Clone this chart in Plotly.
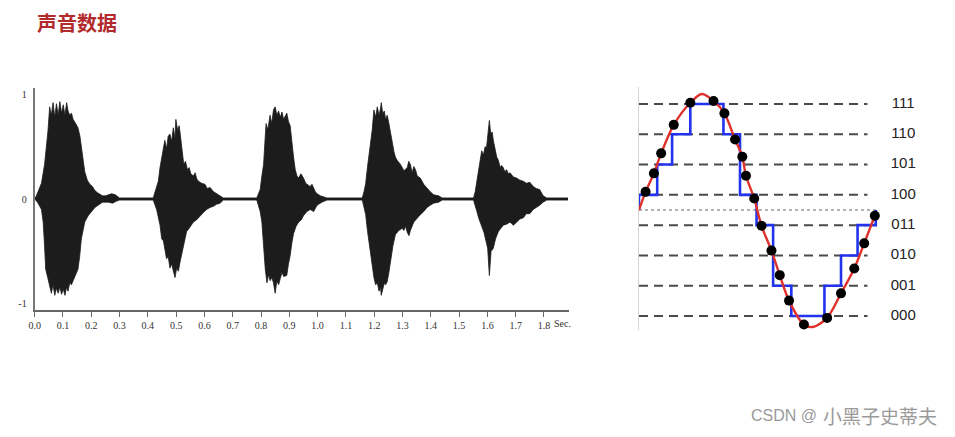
import plotly.graph_objects as go

# page body has an 8px margin: the figure is sized to fit inside it
OFF = 8
W, H = 955 - 2 * OFF, 437 - 2 * OFF


def px(x):
    return (x - OFF) / W


def py(y):
    return 1 - (y - OFF) / H


# ---------------- Left chart: audio waveform envelope ----------------
upper_t = [0.000, 0.006, 0.024, 0.035, 0.047, 0.053, 0.059, 0.065, 0.071, 0.077, 0.083, 0.089, 0.095,
           0.101, 0.107, 0.113, 0.118, 0.124, 0.130, 0.136, 0.145, 0.153, 0.160, 0.165, 0.171, 0.177,
           0.186, 0.195, 0.204, 0.213, 0.222, 0.230, 0.240, 0.250, 0.260, 0.272, 0.285, 0.295, 0.300,
           0.419, 0.425, 0.431, 0.437, 0.443, 0.449, 0.455, 0.460, 0.466, 0.472, 0.478, 0.484, 0.490,
           0.496, 0.499, 0.505, 0.511, 0.516, 0.522, 0.527, 0.533, 0.540, 0.546, 0.552, 0.561, 0.567,
           0.573, 0.579, 0.590, 0.602, 0.610, 0.620, 0.632, 0.643, 0.655, 0.667,
           0.785, 0.791, 0.797, 0.803, 0.809, 0.815, 0.818, 0.824, 0.832, 0.838, 0.844, 0.850, 0.856,
           0.862, 0.868, 0.874, 0.880, 0.891, 0.897, 0.903, 0.909, 0.915, 0.921, 0.927, 0.933, 0.941,
           0.950, 0.958, 0.968, 0.974, 0.980, 0.986, 0.992, 0.998, 1.010, 1.033,
           1.158, 1.164, 1.170, 1.176, 1.182, 1.188, 1.193, 1.199, 1.205, 1.211, 1.217, 1.222, 1.225,
           1.230, 1.236, 1.240, 1.246, 1.252, 1.258, 1.264, 1.270, 1.275, 1.281, 1.293, 1.305, 1.317,
           1.322, 1.328, 1.334, 1.340, 1.346, 1.352, 1.363, 1.375, 1.387, 1.398, 1.410, 1.428, 1.440,
           1.551, 1.557, 1.563, 1.568, 1.574, 1.580, 1.586, 1.592, 1.597, 1.602, 1.607, 1.612, 1.617,
           1.621, 1.627, 1.633, 1.639, 1.645, 1.650, 1.656, 1.662, 1.668, 1.674, 1.680, 1.692, 1.703,
           1.715, 1.727, 1.738, 1.750, 1.762, 1.773, 1.785, 1.797, 1.810, 1.885]
upper_v = [0.00, 0.03, 0.15, 0.33, 0.65, 0.88, 0.80, 0.92, 0.78, 0.91, 0.80, 0.93, 0.82,
           0.90, 0.80, 0.92, 0.84, 0.80, 0.82, 0.76, 0.72, 0.68, 0.60, 0.50, 0.38, 0.26,
           0.18, 0.14, 0.12, 0.08, 0.06, 0.05, 0.03, 0.03, 0.04, 0.05, 0.04, 0.02, 0.01,
           0.01, 0.07, 0.12, 0.17, 0.30, 0.40, 0.50, 0.56, 0.48, 0.60, 0.62, 0.55, 0.68,
           0.58, 0.76, 0.66, 0.70, 0.59, 0.45, 0.33, 0.36, 0.28, 0.30, 0.24, 0.22, 0.25,
           0.19, 0.17, 0.15, 0.14, 0.10, 0.11, 0.07, 0.05, 0.03, 0.01,
           0.01, 0.05, 0.09, 0.22, 0.33, 0.60, 0.72, 0.66, 0.80, 0.72, 0.85, 0.88, 0.80,
           0.84, 0.78, 0.83, 0.76, 0.82, 0.74, 0.70, 0.52, 0.40, 0.28, 0.22, 0.20, 0.24,
           0.20, 0.15, 0.13, 0.12, 0.14, 0.10, 0.07, 0.05, 0.03, 0.01,
           0.01, 0.07, 0.15, 0.30, 0.42, 0.56, 0.66, 0.85, 0.78, 0.88, 0.80, 0.86, 0.92,
           0.82, 0.84, 0.76, 0.80, 0.72, 0.62, 0.53, 0.45, 0.40, 0.37, 0.33, 0.27, 0.30,
           0.36, 0.33, 0.25, 0.31, 0.28, 0.22, 0.20, 0.14, 0.10, 0.07, 0.04, 0.03, 0.01,
           0.01, 0.07, 0.18, 0.27, 0.38, 0.46, 0.42, 0.50, 0.49, 0.60, 0.75, 0.62, 0.64,
           0.56, 0.48, 0.40, 0.37, 0.30, 0.32, 0.30, 0.26, 0.28, 0.24, 0.25, 0.21, 0.20,
           0.18, 0.17, 0.15, 0.16, 0.12, 0.10, 0.09, 0.03, 0.01, 0.01]

lower_t = [0.000, 0.010, 0.024, 0.030, 0.035, 0.039, 0.047, 0.053, 0.059, 0.065, 0.071, 0.077, 0.083,
           0.089, 0.095, 0.101, 0.107, 0.113, 0.118, 0.124, 0.130, 0.136, 0.145, 0.153, 0.159, 0.165,
           0.171, 0.177, 0.189, 0.201, 0.213, 0.224, 0.240, 0.260, 0.275, 0.290, 0.300,
           0.419, 0.431, 0.443, 0.449, 0.455, 0.460, 0.466, 0.472, 0.478, 0.484, 0.490, 0.496, 0.502,
           0.508, 0.514, 0.519, 0.525, 0.531, 0.537, 0.546, 0.555, 0.561, 0.572, 0.584, 0.596, 0.608,
           0.620, 0.632, 0.643, 0.655, 0.667,
           0.785, 0.797, 0.803, 0.809, 0.815, 0.821, 0.827, 0.832, 0.838, 0.844, 0.850, 0.856, 0.862,
           0.868, 0.874, 0.880, 0.891, 0.897, 0.903, 0.909, 0.915, 0.924, 0.933, 0.942, 0.950, 0.962,
           0.974, 0.986, 0.998, 1.015, 1.033,
           1.158, 1.164, 1.170, 1.176, 1.182, 1.188, 1.193, 1.199, 1.205, 1.211, 1.217, 1.222, 1.225,
           1.231, 1.236, 1.240, 1.246, 1.252, 1.260, 1.266, 1.275, 1.287, 1.299, 1.305, 1.311, 1.317,
           1.323, 1.328, 1.340, 1.352, 1.363, 1.375, 1.387, 1.398, 1.410, 1.428, 1.440,
           1.551, 1.557, 1.563, 1.569, 1.575, 1.580, 1.588, 1.595, 1.601, 1.607, 1.613, 1.621, 1.629,
           1.639, 1.648, 1.656, 1.668, 1.680, 1.692, 1.703, 1.715, 1.727, 1.738, 1.750, 1.762, 1.773,
           1.785, 1.797, 1.810, 1.885]
lower_v = [0.00, -0.03, -0.10, -0.22, -0.45, -0.67, -0.76, -0.82, -0.90, -0.82, -0.92, -0.85, -0.90,
           -0.84, -0.91, -0.86, -0.92, -0.84, -0.88, -0.80, -0.82, -0.78, -0.72, -0.67, -0.55, -0.38,
           -0.30, -0.22, -0.16, -0.12, -0.08, -0.06, -0.03, -0.03, -0.04, -0.02, -0.01,
           -0.01, -0.10, -0.25, -0.38, -0.40, -0.48, -0.57, -0.55, -0.66, -0.62, -0.70, -0.75, -0.66,
           -0.69, -0.60, -0.54, -0.45, -0.38, -0.31, -0.28, -0.25, -0.22, -0.20, -0.16, -0.13, -0.10,
           -0.08, -0.07, -0.05, -0.04, -0.01,
           -0.01, -0.12, -0.22, -0.45, -0.67, -0.80, -0.72, -0.78, -0.75, -0.80, -0.90, -0.78, -0.82,
           -0.76, -0.70, -0.74, -0.73, -0.62, -0.54, -0.42, -0.33, -0.26, -0.22, -0.20, -0.16, -0.12,
           -0.10, -0.12, -0.06, -0.03, -0.01,
           -0.01, -0.07, -0.15, -0.30, -0.41, -0.52, -0.66, -0.75, -0.82, -0.80, -0.88, -0.84, -0.92,
           -0.86, -0.80, -0.82, -0.79, -0.70, -0.54, -0.45, -0.34, -0.30, -0.28, -0.30, -0.26, -0.32,
           -0.35, -0.30, -0.22, -0.18, -0.15, -0.12, -0.08, -0.06, -0.04, -0.03, -0.01,
           -0.01, -0.08, -0.12, -0.18, -0.22, -0.25, -0.32, -0.40, -0.47, -0.73, -0.50, -0.47, -0.38,
           -0.31, -0.28, -0.25, -0.24, -0.22, -0.25, -0.22, -0.19, -0.18, -0.14, -0.14, -0.10, -0.08,
           -0.06, -0.03, -0.01, -0.01]

time_ticks = [0.0, 0.1, 0.2, 0.3, 0.4, 0.5, 0.6, 0.7, 0.8, 0.9, 1.0, 1.1, 1.2, 1.3, 1.4, 1.5, 1.6, 1.7, 1.8]
time_labels = ["0.0", "0.1", "0.2", "0.3", "0.4", "0.5", "0.6", "0.7", "0.8", "0.9",
               "1.0", "1.1", "1.2", "1.3", "1.4", "1.5", "1.6", "1.7", "1.8"]
amp_ticks = [-1, 0, 1]
amp_labels = ["-1", "0", "1"]

# ---------------- Right chart: sampling / quantisation ----------------
level_values = [0, 1, 2, 3, 4, 5, 6, 7]
level_labels = ["000", "001", "010", "011", "100", "101", "110", "111"]
zero_level = 3.5

sample_t = [2.0, 4.5, 6.7, 10.5, 15.5, 22.5, 25.8, 29.0, 31.2, 32.3, 34.8, 37.0, 40.0,
            42.5, 45.3, 49.8, 56.8, 61.0, 65.0, 68.0, 71.2]
sample_v = [4.10, 4.71, 5.37, 6.31, 7.04, 7.10, 6.69, 5.83, 5.26, 4.63, 3.88, 2.98, 2.16,
            1.35, 0.51, -0.28, -0.06, 0.75, 1.57, 2.40, 3.31]

curve_t = [0.0, 2.0, 4.5, 6.7, 10.5, 15.5, 19.0, 22.5, 25.8, 29.0, 31.2, 32.3, 34.8, 37.0,
           40.0, 42.5, 45.3, 49.8, 52.5, 56.8, 61.0, 65.0, 68.0, 71.2]
curve_v = [3.50, 4.10, 4.71, 5.37, 6.31, 7.04, 7.33, 7.10, 6.69, 5.83, 5.26, 4.63, 3.88, 2.98,
           2.16, 1.35, 0.51, -0.28, -0.36, -0.06, 0.75, 1.57, 2.40, 3.31]

step_t = [0.0, 0.0, 5.5, 10.0, 15.5, 25.5, 30.5, 35.5, 40.5, 46.0, 56.0, 61.0, 66.0, 71.5, 71.5]
step_v = [3.5, 4, 5, 6, 7, 6, 4, 3, 1, 0, 1, 2, 3, 3, 3.5]

grid_t = [0.0, 69.0]
zero_t = [0.0, 71.5]
label_t = 79.8

fig = go.Figure()

# waveform
fig.add_trace(go.Scatter(x=upper_t, y=upper_v, mode="lines", fill="tozeroy",
                         line=dict(color="#1c1c1c", width=0.8), fillcolor="#1c1c1c",
                         xaxis="x", yaxis="y", hoverinfo="skip", showlegend=False))
fig.add_trace(go.Scatter(x=lower_t, y=lower_v, mode="lines", fill="tozeroy",
                         line=dict(color="#1c1c1c", width=0.8), fillcolor="#1c1c1c",
                         xaxis="x", yaxis="y", hoverinfo="skip", showlegend=False))

# quantisation levels (dashed)
for lv in level_values:
    fig.add_trace(go.Scatter(x=grid_t, y=[lv, lv], mode="lines",
                             line=dict(color="#4a4a4a", width=2, dash="9px,6px"),
                             xaxis="x2", yaxis="y2", hoverinfo="skip", showlegend=False))
# zero line (dotted)
fig.add_trace(go.Scatter(x=zero_t, y=[zero_level, zero_level], mode="lines",
                         line=dict(color="#666", width=1.2, dash="dot"),
                         xaxis="x2", yaxis="y2", hoverinfo="skip", showlegend=False))
# quantised step signal
fig.add_trace(go.Scatter(x=step_t, y=step_v, mode="lines", line_shape="hv",
                         line=dict(color="#2233ee", width=2.6),
                         xaxis="x2", yaxis="y2", hoverinfo="skip", showlegend=False))
# analog curve
fig.add_trace(go.Scatter(x=curve_t, y=curve_v, mode="lines", line_shape="spline",
                         line=dict(color="#e0302a", width=2.4, smoothing=0.9),
                         xaxis="x2", yaxis="y2", hoverinfo="skip", showlegend=False))
# samples
fig.add_trace(go.Scatter(x=sample_t, y=sample_v, mode="markers",
                         marker=dict(color="#000", size=10),
                         xaxis="x2", yaxis="y2", hoverinfo="skip", showlegend=False))
# level labels
fig.add_trace(go.Scatter(x=[label_t] * len(level_values), y=level_values, mode="text",
                         text=level_labels, textposition="middle center",
                         textfont=dict(family="Liberation Sans, Arial", size=15, color="#222"),
                         cliponaxis=False, xaxis="x2", yaxis="y2", hoverinfo="skip", showlegend=False))

serif = "Liberation Serif, DejaVu Serif, serif"

fig.update_layout(
    width=W, height=H, autosize=False,
    margin=dict(l=0, r=0, t=0, b=0),
    paper_bgcolor="white", plot_bgcolor="white",
    xaxis=dict(domain=[px(28.8), px(567)], range=[0, 1.89], showgrid=False, zeroline=False,
               showline=True, linecolor="#666", linewidth=2,
               ticks="outside", ticklen=5, tickwidth=1.3, tickcolor="#666",
               tickvals=time_ticks, ticktext=time_labels,
               tickfont=dict(family=serif, size=10, color="#333")),
    yaxis=dict(domain=[py(310), py(88)], range=[-1.06, 1.06], showgrid=False, zeroline=False,
               showline=True, linecolor="#777", linewidth=2,
               ticks="", tickvals=amp_ticks, ticktext=amp_labels, ticklabelstandoff=4,
               tickfont=dict(family=serif, size=10, color="#333")),
    xaxis2=dict(domain=[px(637), px(917)], range=[0, 84], anchor="y2", visible=False),
    yaxis2=dict(domain=[py(330), py(87)], range=[-0.46, 7.56], anchor="x2",
                showgrid=False, zeroline=False, showticklabels=False, ticks="",
                showline=True, linecolor="#d4d4d4", linewidth=1),
    annotations=[
        dict(text="<b>声音数据</b>", x=px(29), y=py(22), xref="paper", yref="paper",
             xanchor="left", yanchor="middle", showarrow=False,
             font=dict(family="Noto Sans CJK SC", size=20, color="#b22a2c")),
        dict(text="Sec.", x=1.827, y=-1.06, xref="x", yref="y", xanchor="left", yanchor="top",
             yshift=-6, showarrow=False, font=dict(family=serif, size=10, color="#333")),
        dict(text="CSDN @", x=px(748), y=py(415), xref="paper", yref="paper",
             xanchor="left", yanchor="middle", showarrow=False,
             font=dict(family="Liberation Sans, Arial", size=16, color="#9a9a9a")),
        dict(text="小黑子史蒂夫", x=px(820), y=py(415), xref="paper", yref="paper",
             xanchor="left", yanchor="middle", showarrow=False,
             font=dict(family="Noto Sans CJK SC", size=19, color="#9a9a9a")),
    ],
)

fig.write_html("out.html")
